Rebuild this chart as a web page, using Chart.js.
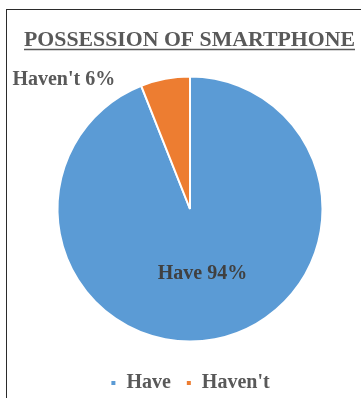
<!DOCTYPE html>
<html><head><meta charset="utf-8">
<script src="https://cdn.jsdelivr.net/npm/chart.js@4"></script>
<style>
html,body{margin:0;padding:0;background:#fff;}
#wrap{position:relative;width:361px;height:398px;overflow:hidden;}
#frame{position:absolute;left:6px;top:9px;width:420px;height:440px;border-left:1.5px solid #2b2b2b;border-top:1.5px solid #2b2b2b;}
canvas{position:absolute;left:0;top:0;}
</style></head><body>
<div id="wrap"><div id="frame"></div><canvas id="c" width="361" height="398"></canvas></div>
<script>
const chartTitle = 'POSSESSION OF SMARTPHONE';
const categories = ['Have', "Haven't"];
const percentages = [94, 6];
const sliceColors = ['#5B9BD5', '#ED7D31'];

const FONT = '"Liberation Serif", "Times New Roman", serif';

// Title with underline, drawn above the chart area
const titlePlugin = {
  id: 'underlinedTitle',
  afterDraw(chart) {
    const ctx = chart.ctx;
    const cx = 189.5, baseline = 45.5, targetWidth = 331;
    ctx.save();
    ctx.font = 'bold 21.5px ' + FONT;
    ctx.fillStyle = '#595959';
    ctx.textAlign = 'center';
    ctx.textBaseline = 'alphabetic';
    const natural = ctx.measureText(chartTitle).width;
    const stretch = Math.min(1.12, Math.max(0.9, targetWidth / natural));
    const w = natural * stretch;
    ctx.translate(cx, baseline);
    ctx.scale(stretch, 1);
    ctx.fillText(chartTitle, 0, 0);
    ctx.restore();
    ctx.save();
    ctx.strokeStyle = '#595959';
    ctx.lineWidth = 1.5;
    ctx.beginPath();
    ctx.moveTo(cx - w / 2, 49.5);
    ctx.lineTo(cx + w / 2, 49.5);
    ctx.stroke();
    ctx.restore();
  }
};

const labelPlugin = {
  id: 'sliceLabels',
  afterDatasetsDraw(chart) {
    const ctx = chart.ctx;
    const meta = chart.getDatasetMeta(0);
    meta.data.forEach((arc, i) => {
      const p = arc.getProps(['x', 'y', 'startAngle', 'endAngle', 'outerRadius'], true);
      const mid = (p.startAngle + p.endAngle) / 2;
      const text = categories[i] + ' ' + percentages[i] + '%';
      ctx.save();
      ctx.font = 'bold 20px ' + FONT;
      ctx.textBaseline = 'middle';
      if (percentages[i] >= 50) {
        ctx.textAlign = 'center';
        ctx.fillStyle = '#404040';
        ctx.fillText(text, p.x + Math.cos(mid) * p.outerRadius * 0.5, p.y + Math.sin(mid) * p.outerRadius * 0.5);
      } else {
        ctx.textAlign = 'right';
        ctx.fillStyle = '#595959';
        ctx.fillText(text, p.x + Math.cos(mid) * p.outerRadius - 50, p.y + Math.sin(mid) * p.outerRadius + 1);
      }
      ctx.restore();
    });
  }
};

new Chart(document.getElementById('c'), {
  type: 'pie',
  data: {
    labels: categories,
    datasets: [{
      data: percentages,
      backgroundColor: sliceColors,
      borderColor: '#ffffff',
      borderWidth: 2,
      hoverOffset: 0
    }]
  },
  options: {
    responsive: false,
    animation: false,
    devicePixelRatio: 1,
    layout: { padding: { left: 56.5, right: 37.5, top: 60, bottom: -5 } },
    plugins: {
      title: { display: false },
      legend: {
        display: true,
        position: 'bottom',
        labels: {
          boxWidth: 6,
          boxHeight: 6,
          padding: 15,
          color: '#595959',
          font: { family: FONT, size: 20, weight: 'bold' }
        }
      },
      tooltip: { enabled: false }
    }
  },
  plugins: [titlePlugin, labelPlugin]
});
</script>
</body></html>
